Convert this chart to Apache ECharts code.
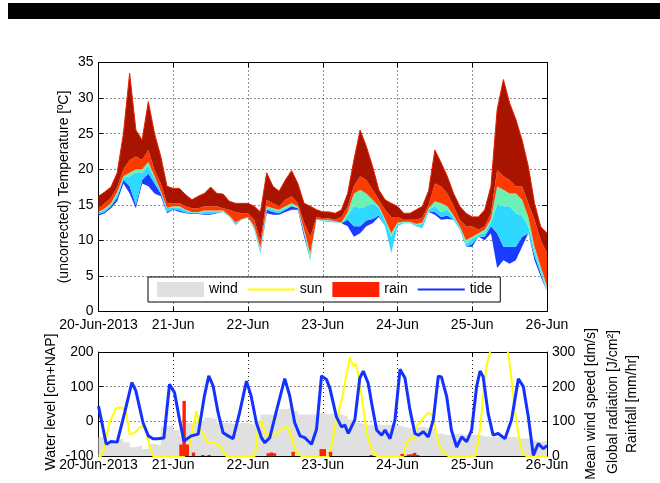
<!DOCTYPE html>
<html><head><meta charset="utf-8">
<script src="https://cdn.jsdelivr.net/npm/echarts@6/dist/echarts.min.js"></script>
<style>html,body{margin:0;padding:0;background:#fff}#c{width:660px;height:483px}</style>
</head><body><div id="c"></div>
<script>
// ---- tick labels ----
const dayLabels = ['20-Jun-2013','21-Jun','22-Jun','23-Jun','24-Jun','25-Jun','26-Jun'];

// ---- temperature ensemble (hours since 20-Jun 00:00) ----
const tempHours = [0,2,4,6,8,10,12,14,16,18,20,22,24,26,28,30,32,34,36,38,40,42,44,46,48,50,52,54,56,58,60,62,64,66,68,70,72,74,76,78,80,82,84,86,88,90,92,94,96,98,100,102,104,106,108,110,112,114,116,118,120,122,124,126,128,130,132,134,136,138,140,142,144];
// upper envelope of all sensors
const tempTop = [16.2,16.8,17.5,19.5,25.0,33.5,25.5,24.1,29.5,25.0, 21.8,17.6,17.3,17.3,16.4,15.7,16.2,16.6,17.5,16.6, 16.5,15.5,15.2,15.2,15.2,14.8,14.0,19.5,17.6,16.9, 18.5,19.8,18.0,15.2,14.8,14.3,14.0,14.0,13.8,14.3, 16.6,21.3,25.5,23.2,20.4,17.1,15.7,15.2,14.8,13.8, 13.8,14.3,14.8,17.0,22.7,20.9,19.0,16.6,14.8,13.8, 13.3,13.3,14.3,17.6,28.4,32.6,29.3,27.0,24.1,20.4, 15.2,11.9,11.0];
// lower edge of dark red sensors
const tempDarkRed = [14.6,15.2,16.0,17.5,20.0,21.3,21.8,21.3,22.7,19.9, 18.0,15.2,15.2,15.2,14.8,14.5,14.5,14.8,14.8,14.8, 14.5,14.3,14.0,13.8,13.8,12.9,10.0,15.7,15.2,14.8, 15.7,16.2,15.2,12.5,10.5,13.3,13.1,13.1,12.9,13.3, 14.8,17.6,19.0,18.5,17.1,15.7,14.3,13.3,13.3,12.9, 12.9,12.9,13.2,15.0,18.0,17.6,16.6,14.8,12.9,12.0, 12.0,11.5,12.0,13.8,19.9,19.0,18.5,17.6,17.6,15.2, 12.9,10.0,8.2];
// lower edge of red/orange/yellow sensors
const tempWarm = [14.0,14.5,15.2,16.8,19.0,19.5,20.0,20.0,21.0,19.0, 16.9,14.6,14.8,14.8,14.3,14.0,14.0,14.2,14.2,14.2, 14.2,13.5,12.5,13.0,13.3,12.0,9.0,14.8,14.5,14.3, 14.8,15.2,14.8,11.5,8.2,13.0,12.9,12.9,12.7,12.5, 14.0,16.6,17.1,16.6,15.7,14.8,13.0,11.0,12.5,12.6, 12.6,12.3,12.5,14.5,15.5,15.2,14.8,13.5,12.0,10.0, 10.5,11.0,11.5,13.0,17.6,17.1,16.6,16.6,15.7,13.3, 9.1,6.3,3.5];
// lower edge of green sensors
const tempGreen = [13.9,14.3,15.0,16.4,18.8,19.0,19.5,19.5,20.5,18.7, 16.8,14.5,14.6,14.6,14.2,13.9,13.9,14.0,14.0,14.0, 14.1,13.4,12.4,12.9,13.3,11.8,8.6,14.5,14.3,14.1, 14.5,14.9,14.6,11.2,7.6,12.9,12.8,12.8,12.6,12.4, 13.5,14.8,14.5,14.8,15.2,14.6,12.8,10.5,12.3,12.5, 12.5,12.2,12.3,14.3,14.8,14.0,14.3,13.3,11.8,9.5, 10.2,10.8,11.0,12.5,15.0,14.8,14.8,13.8,13.5,12.0, 8.5,5.8,3.0];
// lower edge of cyan sensors
const tempCyan = [13.7,14.0,14.8,16.0,18.5,17.6,15.0,18.5,19.4,18.0, 16.6,14.0,14.4,14.2,13.9,13.8,13.8,13.7,13.7,13.9, 14.0,13.3,12.3,12.9,13.3,11.5,8.3,14.3,14.0,13.8, 14.3,14.8,14.5,11.0,7.2,12.9,12.7,12.7,12.5,12.4, 12.9,12.0,12.0,12.8,13.0,13.5,12.0,8.2,12.0,12.4, 12.4,12.0,11.7,14.0,14.0,13.3,13.5,12.9,11.5,9.1, 9.5,10.5,10.5,12.0,11.0,9.1,9.1,9.1,10.5,11.0, 7.8,5.3,2.8];
// lower envelope (blue sensors)
const tempMin = [13.5,13.8,14.5,15.5,18.0,16.6,14.5,18.0,17.6,16.6, 16.2,13.8,14.3,14.0,13.8,13.7,13.7,13.6,13.6,13.8, 14.0,13.3,12.2,12.9,13.2,11.5,8.2,13.8,13.6,13.6, 14.0,14.3,14.3,10.5,7.2,12.9,12.7,12.6,12.5,12.4, 12.0,10.5,11.0,12.0,12.4,13.3,12.0,8.2,12.0,12.4, 12.4,12.0,11.7,14.0,13.6,12.9,13.0,12.9,11.5,9.1, 9.1,10.5,10.0,11.0,6.1,7.2,6.7,7.2,9.1,11.0, 7.2,4.9,2.6];

// ---- bottom panel ----
const windHours = tempHours;
const windValues = [55,40,45,50,40,25,30,20,35,30, 85,90,75,60,95,100,100,110,105,95, 95,90,95,95,90,100,120,120,125,135, 140,130,120,120,120,125,120,125,120,115, 105,95,90,90,90,90,90,90,85,80, 80,85,80,80,65,60,62,65,60,60, 62,58,55,55,55,55,55,50,50,45, 40,45,45];

const sunHours = [0,0.9,1.9,3.5,5.7,7.8,8.9,10,11.6,13.2,14.8,16.4,17.5,27.5,28.7,30.3,31.4,32.5,33.5,35.1,37.3,38.9,41,50.2,51.2,52.3,53.9,55.5,57.1,59.3,60.9,62.5,64.1,65.1,74,74.8,76.4,78.1,79.7,80.7,81.8,82.7,83.7,84.5,85.5,86.6,88.2,89.3,97.9,98.9,100,101.1,102.1,103.2,104.8,105.9,106.9,108,109.1,110.7,112.3,121,121.4,122.5,123.5,124.6,125.7,127.5,129.5,131,132.1,133.2,134.2,135.3,136.4,137.5,144];
const sunValues = [0,0,29,96,139,139,125,62,67,82,87,29,0,0,10,77,130,77,67,38,38,29,0,0,77,101,58,67,62,82,82,38,5,0,0,29,106,163,240,284,260,265,221,173,106,48,10,0,0,38,52,48,87,96,115,125,120,87,38,10,0,0,5,77,173,260,300,340,345,330,260,173,96,38,5,0,0];

const rainHours = [26.5,27.5,28.5,30.5,33.5,35.5,54.5,55.5,56.5,62.5,71.5,72.5,74.5,87.5,97.5,99.5,100.5,101.5,102.5];
const rainValues = [33,159,33,10,3,3,8,10,8,12,20,20,12,3,6,4,5,9,3];

const tideHours = [0,2.5,4,6,8.4,10.7,12,14.3,16,17.5,19,21,22.8,24.4,26,27.4,29.8,32,34,35.4,36.8,38.4,40,41.6,43.2,45.3,47.5,49,50.7,52.3,53.4,55,57,59.8,61.4,63,64.7,66.2,68.4,70,71.6,72.2,73.2,74.3,76.4,78,79.1,80.2,82.3,83.9,85,86.6,87.7,89.3,90.9,92,93.6,95.2,96.8,98.4,100,101.6,102.7,104.3,105.9,107.5,109.1,110.1,111.8,113.3,115,116.6,118.2,119.8,121.4,122.5,123.5,125.1,126.7,128.3,130.5,132.6,134.8,136.4,138,139.6,141.2,142.8,144];
const tideValues = [44,-66,-58,-60,25,112,88,-4,-42,-50,-50,-48,107,83,6,-57,-42,-37,73,131,102,25,-33,-42,-50,25,116,73,-4,-47,-62,-47,25,123,73,-4,-42,-47,-66,-23,131,135,121,95,13,-16,-11,-35,4,125,145,110,52,-25,-40,-25,-50,4,150,125,33,-35,-40,-30,-45,4,130,128,71,-25,-74,-45,-59,-25,100,145,129,23,-40,-35,-50,4,123,100,13,-98,-64,-79,-70];

// ---- build options ----
const FONT = "'Liberation Sans', Arial, Helvetica, sans-serif";
const pair = (xs, ys) => xs.map((x, i) => [x, ys[i]]);
const diff = (a, b) => a.map((v, i) => +(v - b[i]).toFixed(2));

const dotted = { show: true, lineStyle: { color: '#222', type: [1, 3], width: 1 } };
const axLine = { show: true, onZero: false, lineStyle: { color: '#000', width: 1 } };
const tick = { show: true, inside: true, length: 5, lineStyle: { color: '#000' } };
const lbl = { fontSize: 14, color: '#000', fontFamily: FONT };
const dayFmt = v => dayLabels[Math.round(+v / 24)];

// top panel: category axis over the 2-hourly sample times
function xCat(pos, labels) {
  return {
    type: 'category', gridIndex: 0, position: pos, data: tempHours.map(String), boundaryGap: false,
    axisLine: axLine,
    axisTick: Object.assign({ interval: 11, alignWithLabel: true }, tick),
    splitLine: labels ? Object.assign({ interval: 11 }, dotted) : { show: false },
    axisLabel: labels ? Object.assign({ interval: 11, margin: 7, formatter: dayFmt }, lbl) : { show: false }
  };
}
function xVal(pos, labels) {
  return {
    type: 'value', gridIndex: 1, position: pos, min: 0, max: 144, interval: 24,
    axisLine: axLine, axisTick: tick, splitLine: labels ? dotted : { show: false },
    axisLabel: labels ? Object.assign({ margin: 2, formatter: dayFmt, showMinLabel: true, showMaxLabel: true }, lbl) : { show: false }
  };
}
function yAx(grid, pos, min, max, step, labels, split) {
  return {
    type: 'value', gridIndex: grid, position: pos, min: min, max: max, interval: step,
    axisLine: axLine, axisTick: tick, splitLine: split ? dotted : { show: false },
    axisLabel: labels ? Object.assign({ margin: 5 }, lbl) : { show: false }
  };
}

function band(name, data, color) {
  return {
    name: name, type: 'line', xAxisIndex: 0, yAxisIndex: 0, stack: 'temp', data: data,
    symbol: 'none', lineStyle: { width: 0, opacity: 0 }, areaStyle: { color: color, opacity: 1 },
    silent: true, z: 2
  };
}

const series = [
  { name: 'base', type: 'line', xAxisIndex: 0, yAxisIndex: 0, stack: 'temp', data: tempMin.slice(), symbol: 'none', lineStyle: { width: 0, opacity: 0 }, silent: true },
  band('t_blue', diff(tempCyan, tempMin), '#1a3cff'),
  band('t_cyan', diff(tempGreen, tempCyan), '#2fd8ff'),
  band('t_green', diff(tempWarm, tempGreen), '#6cf0b4'),
  band('t_red', diff(tempDarkRed, tempWarm), '#ff3a00'),
  band('t_dark', diff(tempTop, tempDarkRed), '#a81400'),
  { name: 't_top', type: 'line', xAxisIndex: 0, yAxisIndex: 0, data: tempTop.slice(), symbol: 'none', lineStyle: { width: 1, color: '#e82000' }, silent: true, z: 3 },

  { name: 'wind', type: 'line', xAxisIndex: 2, yAxisIndex: 3, step: 'end', data: pair(windHours, windValues), symbol: 'none',
    itemStyle: { color: '#e0e0e0' }, lineStyle: { width: 0, color: '#e0e0e0' }, areaStyle: { color: '#e0e0e0', opacity: 1 }, z: 1 },
  { name: 'sun', type: 'line', xAxisIndex: 2, yAxisIndex: 3, data: pair(sunHours, sunValues), symbol: 'none',
    itemStyle: { color: '#ffff00' }, lineStyle: { width: 2, color: '#ffff00' }, z: 2 },
  { name: 'rain', type: 'bar', xAxisIndex: 2, yAxisIndex: 3, data: pair(rainHours, rainValues), barWidth: 3.4,
    itemStyle: { color: '#ff2000' }, z: 3 },
  { name: 'tide', type: 'line', xAxisIndex: 2, yAxisIndex: 2, data: pair(tideHours, tideValues), symbol: 'none',
    itemStyle: { color: '#1432ff' }, lineStyle: { width: 3, color: '#1432ff' }, z: 4 }
];

const vtext = (t, x, y) => ({ type: 'text', x: x, y: y, rotation: Math.PI / 2,
  style: { text: t, fontSize: 14, fontFamily: FONT, fill: '#000', align: 'center', verticalAlign: 'middle', textAlign: 'center', textVerticalAlign: 'middle' } });

const lineIcon = 'path://M0,0H47V2H0Z';

const option = {
  animation: false,
  backgroundColor: '#fff',
  grid: [
    { left: 98.5, top: 62.5, width: 448.5, height: 249, outerBoundsMode: 'none', containLabel: false },
    { left: 98.5, top: 352, width: 448.5, height: 104, outerBoundsMode: 'none', containLabel: false }
  ],
  xAxis: [
    xCat('bottom', true),
    xCat('top', false),
    xVal('bottom', true),
    xVal('top', false)
  ],
  yAxis: [
    yAx(0, 'left', 0, 35, 5, true, true),
    yAx(0, 'right', 0, 35, 5, false, false),
    yAx(1, 'left', -100, 200, 100, true, true),
    yAx(1, 'right', 0, 300, 100, true, false)
  ],
  legend: {
    data: [
      { name: 'wind', icon: 'rect', itemStyle: { color: '#e0e0e0' } },
      { name: 'sun', icon: lineIcon, itemStyle: { color: '#ffff00' } },
      { name: 'rain', icon: 'rect', itemStyle: { color: '#ff2000' } },
      { name: 'tide', icon: lineIcon, itemStyle: { color: '#1432ff' } }
    ],
    left: 148, top: 277, orient: 'horizontal', symbolKeepAspect: true,
    padding: [5, 8, 5, 9], itemGap: 10, itemWidth: 47, itemHeight: 15,
    backgroundColor: '#fff', borderColor: '#000', borderWidth: 1, borderRadius: 0,
    textStyle: { fontSize: 14, color: '#000', fontFamily: FONT },
    selectedMode: false, z: 10
  },
  graphic: [
    { type: 'rect', shape: { x: 8, y: 3, width: 652, height: 16 }, style: { fill: '#000' } },
    vtext('(uncorrected) Temperature [ºC]', 64, 187),
    vtext('Water level [cm+NAP]', 51, 402),
    vtext('Mean wind speed [dm/s]', 591, 404),
    vtext('Global radiation [J/cm²]', 613, 402),
    vtext('Rainfall [mm/hr]', 632, 404)
  ],
  series: series
};

const chart = echarts.init(document.getElementById('c'), null, { renderer: 'canvas' });
chart.setOption(option);
</script></body></html>
